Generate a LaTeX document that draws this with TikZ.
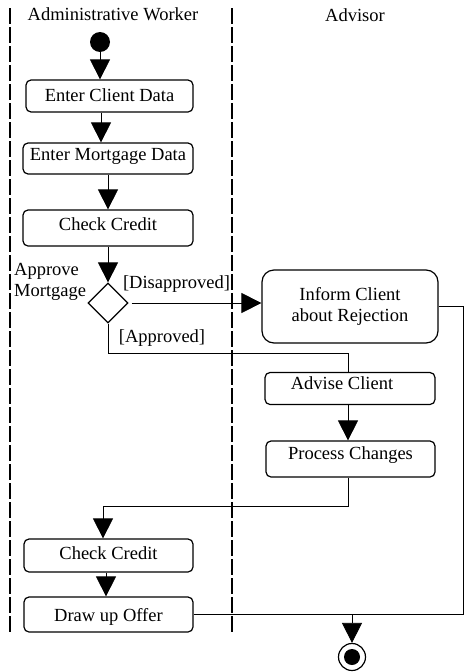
\documentclass[tikz,border=0pt]{standalone}
\usepackage{fontspec}
\setmainfont{Liberation Serif}
\usetikzlibrary{arrows.meta,shapes.geometric,calc}
\begin{document}
\begin{tikzpicture}[x=1pt,y=-1pt,
  font=\fontsize{18.5}{21}\selectfont,
  act/.style={draw, rounded corners=5pt, line width=1.2pt, inner sep=0pt, align=center},
  % baseline placement inside a box: text height 13pt, depth given
  tpos/.style={text height=13pt, text depth=#1},
  arr/.style={-{Triangle[length=20pt,width=20pt]}, line width=0.8pt},
  flow/.style={line width=0.8pt},
  lane/.style={line width=1.6pt, dash pattern=on 16pt off 3pt},
  lbl/.style={inner sep=0pt},
]
\useasboundingbox (0,0) rectangle (467,672);

% swimlane separators and headers
\draw[lane] (10,8) -- (10,633);
\draw[lane] (232,8) -- (232,633);
\node[lbl] (hadm) at (113,14) {Administrative Worker};
\node[lbl] (hadv) at (355,15) {Advisor};

% initial and final states
\node[circle, fill=black, minimum size=20pt, inner sep=0pt] (start) at (100,42) {};
\node[circle, draw, line width=1.2pt, minimum size=27pt, inner sep=0pt] (final) at (352,657) {};
\fill (final) circle (8pt);

% activities
\node[act, tpos=1.6pt, minimum width=167pt, minimum height=32pt] (ecd) at (109.5,96) {Enter Client Data};
\node[act, tpos=8.6pt, minimum width=170pt, minimum height=31pt] (emd) at (108,158.5) {Enter Mortgage Data};
\node[act, tpos=8pt, minimum width=170pt, minimum height=36pt] (cc1) at (108,228) {Check Credit};
\node[draw, diamond, line width=1.2pt, minimum width=40pt, minimum height=40pt, inner sep=0pt] (dia) at (108,303) {};
\node[lbl, align=left, anchor=west] (amlab) at (14,282) {Approve\\Mortgage};
\node[act, rounded corners=12pt, minimum width=176pt, minimum height=73pt] (icr) at (350,306.5) {Inform Client\\about Rejection};
\node[act, tpos=12pt, minimum width=170pt, minimum height=32pt] (adv) at (350,388.5) {Advise Client\hspace{16pt}};
\node[act, tpos=13pt, minimum width=169pt, minimum height=36pt] (pc) at (350.5,459) {Process Changes};
\node[act, tpos=6pt, minimum width=169pt, minimum height=33pt] (cc2) at (108.5,555.5) {Check Credit};
\node[act, text height=16pt, text depth=1.6pt, minimum width=169pt, minimum height=35pt] (duo) at (108.5,614.5) {Draw up Offer};

% guard labels
\node[lbl] (gdis) at (176.5,284.5) {[Disapproved]};
\node[lbl] (gapp) at (162,338.5) {[Approved]};

% control flow
\draw[arr] (start.south) -- (start.south |- ecd.north);
\draw[arr] ([xshift=-8.5pt]ecd.south) -- ([xshift=-8.5pt]ecd.south |- emd.north);
\draw[arr] (emd.south) -- (emd.south |- cc1.north);
\draw[arr] (cc1.south) -- (dia.north);
\draw[arr] ([xshift=3pt]dia.east) -- (dia.east -| icr.west);
\draw[flow] (dia.south) -- ++(0,30) -| ([xshift=-2pt]adv.north);
\draw[arr] ([xshift=-2pt]adv.south) -- ([xshift=-2pt]adv.south |- pc.north);
\draw[arr] ([xshift=-2.5pt]pc.south) -- ++(0,29) -| ([xshift=-5.5pt]cc2.north);
\draw[arr] ([xshift=-2.5pt]cc2.south) -- ([xshift=-2.5pt]cc2.south |- duo.north);
\coordinate (merge) at (final.north |- duo.east);
\draw[flow] (icr.east) -- ++(25,0) |- (duo.east);
\draw[arr] (merge) -- (final.north);
\end{tikzpicture}
\end{document}
